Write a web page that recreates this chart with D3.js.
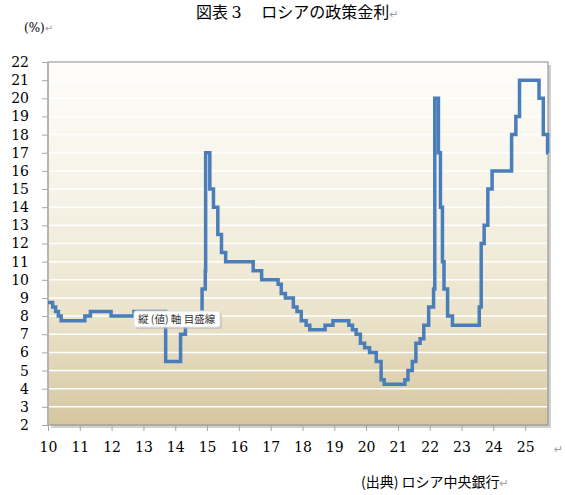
<!DOCTYPE html>
<html>
<head>
<meta charset="utf-8">
<script src="https://cdn.jsdelivr.net/npm/d3@7"></script>
<style>
  body { margin: 0; background: #fff; }
  .axis text { font-family: "DejaVu Serif", serif; font-size: 14px; fill: #000; }
  .axis path { display: none; }
  .axis line { stroke: #a6a6a6; }
  .jp { font-family: "Noto Sans CJK JP", sans-serif; }
  .mark { fill: #a0a0a0; font-family: "DejaVu Sans", sans-serif; }
</style>
</head>
<body>
<div id="chart"></div>
<script>
// Russian policy rate, date of change and new rate (%)
var changeDates = [
  "2010-01-01", "2010-02-24", "2010-03-29", "2010-04-30", "2010-06-01",
  "2011-02-28", "2011-05-03", "2011-12-26", "2012-09-14",
  "2013-09-13", "2014-03-03", "2014-04-28", "2014-07-28", "2014-11-05",
  "2014-12-12", "2014-12-16",
  "2015-02-02", "2015-03-16", "2015-05-05", "2015-06-16", "2015-08-03",
  "2016-06-14", "2016-09-19",
  "2017-03-27", "2017-05-02", "2017-06-19", "2017-09-18", "2017-10-30", "2017-12-18",
  "2018-02-12", "2018-03-26", "2018-09-17", "2018-12-17",
  "2019-06-17", "2019-07-29", "2019-09-09", "2019-10-28", "2019-12-16",
  "2020-02-10", "2020-04-27", "2020-06-22", "2020-07-27",
  "2021-03-22", "2021-04-26", "2021-06-15", "2021-07-26", "2021-09-13",
  "2021-10-25", "2021-12-20",
  "2022-02-14", "2022-02-28", "2022-04-11", "2022-05-04", "2022-05-27",
  "2022-06-14", "2022-07-25", "2022-09-19",
  "2023-07-24", "2023-08-15", "2023-09-18", "2023-10-30", "2023-12-18",
  "2024-07-29", "2024-09-16", "2024-10-28",
  "2025-06-09", "2025-07-28", "2025-09-15"
];
var rates = [
  8.75, 8.5, 8.25, 8.0, 7.75,
  8.0, 8.25, 8.0, 8.25,
  5.5, 7.0, 7.5, 8.0, 9.5,
  10.5, 17.0,
  15.0, 14.0, 12.5, 11.5, 11.0,
  10.5, 10.0,
  9.75, 9.25, 9.0, 8.5, 8.25, 7.75,
  7.5, 7.25, 7.5, 7.75,
  7.5, 7.25, 7.0, 6.5, 6.25,
  6.0, 5.5, 4.5, 4.25,
  4.5, 5.0, 5.5, 6.5, 6.75,
  7.5, 8.5,
  9.5, 20.0, 17.0, 14.0, 11.0,
  9.5, 8.0, 7.5,
  8.5, 12.0, 13.0, 15.0, 16.0,
  18.0, 19.0, 21.0,
  20.0, 18.0, 17.0
];
var xStart = "2010-01-01";
var xEnd = "2025-09-20";
var yearTicks = d3.range(2010, 2026);
var yTicks = d3.range(2, 23);

var svgWidth = 565;
var svgHeight = 495;
var margin = { top: 62, right: 17, bottom: 70, left: 48 };
var width = svgWidth - margin.left - margin.right;
var height = svgHeight - margin.top - margin.bottom;

var parse = d3.timeParse("%Y-%m-%d");

var svg = d3.select("#chart")
  .append("svg")
  .attr("width", svgWidth)
  .attr("height", svgHeight);

var defs = svg.append("defs");
var grad = defs.append("linearGradient")
  .attr("id", "bg")
  .attr("x1", 0).attr("y1", 0).attr("x2", 0).attr("y2", 1);
[[0, "#fefdfa"], [0.4, "#f5f1e4"], [0.7, "#ebe3cb"], [1, "#d5c69f"]].forEach(function(s) {
  grad.append("stop").attr("offset", s[0]).attr("stop-color", s[1]);
});

// title and notes
var title = svg.append("text")
  .attr("class", "jp")
  .attr("x", 196).attr("y", 18)
  .style("font-size", "16px");
title.append("tspan").text("図表 ");
title.append("tspan").style("font-family", "DejaVu Serif, serif").text("3");
title.append("tspan").text("　 ロシアの政策金利");
title.append("tspan").attr("class", "mark").style("font-size", "11px").text("↵");

svg.append("text")
  .attr("x", 24).attr("y", 32)
  .style("font-family", "DejaVu Serif, serif")
  .style("font-size", "12px")
  .text("(%)")
  .append("tspan").attr("class", "mark").style("font-size", "10px").text("↵");

svg.append("text")
  .attr("class", "jp")
  .attr("x", 361).attr("y", 487)
  .style("font-size", "14px")
  .text("(出典) ロシア中央銀行")
  .append("tspan").attr("class", "mark").style("font-size", "11px").text("↵");

svg.append("text")
  .attr("class", "mark")
  .attr("x", 554).attr("y", 453)
  .style("font-size", "11px")
  .text("↵");

var chartGroup = svg.append("g")
  .attr("transform", `translate(${margin.left}, ${margin.top})`);

var xScale = d3.scaleTime()
  .domain([parse(xStart), parse(xEnd)])
  .range([0, width]);

var yScale = d3.scaleLinear()
  .domain([2, 22])
  .range([height, 0]);

// plot area with shadow
chartGroup.append("rect")
  .attr("x", 3).attr("y", 3)
  .attr("width", width).attr("height", height)
  .attr("fill", "#d0d0d0");
chartGroup.append("rect")
  .attr("width", width).attr("height", height)
  .attr("fill", "url(#bg)")
  .attr("stroke", "#8a8a8a")
  .attr("stroke-width", 1);

chartGroup.selectAll(".grid")
  .data(yTicks.slice(1, -1))
  .enter()
  .append("line")
  .attr("class", "grid")
  .attr("x1", 1).attr("x2", width - 1)
  .attr("y1", d => yScale(d)).attr("y2", d => yScale(d))
  .attr("stroke", "#ffffff")
  .attr("stroke-width", 1.5);

chartGroup.append("line")
  .attr("x1", 0).attr("x2", 0)
  .attr("y1", 0).attr("y2", height)
  .attr("stroke", "#b4b4b4")
  .attr("stroke-width", 2);

var leftAxis = d3.axisLeft(yScale)
  .tickValues(yTicks)
  .tickSize(6)
  .tickPadding(13)
  .tickFormat(d3.format("d"));

chartGroup.append("g")
  .attr("class", "axis")
  .call(leftAxis);

var bottomAxis = d3.axisBottom(xScale)
  .tickValues(yearTicks.map(y => new Date(y, 0, 1)))
  .tickSize(6)
  .tickPadding(11)
  .tickFormat(d => String(d.getFullYear() % 100));

chartGroup.append("g")
  .attr("class", "axis")
  .attr("transform", `translate(0, ${height})`)
  .call(bottomAxis);

// step line
var points = changeDates.map((d, i) => ({ date: parse(d), rate: rates[i] }));
points.push({ date: parse(xEnd), rate: rates[rates.length - 1] });

var line = d3.line()
  .x(d => xScale(d.date))
  .y(d => yScale(d.rate))
  .curve(d3.curveStepAfter);

chartGroup.append("path")
  .datum(points)
  .attr("d", line)
  .attr("fill", "none")
  .attr("stroke", "#4a7ebb")
  .attr("stroke-width", 3.5)
  .attr("stroke-linejoin", "miter");

// tooltip left over the chart
var tip = svg.append("g").attr("transform", "translate(134, 311)");
tip.append("rect")
  .attr("x", 2).attr("y", 2).attr("width", 86).attr("height", 16)
  .attr("rx", 2)
  .attr("fill", "#b8b8b8").attr("opacity", 0.6);
tip.append("rect")
  .attr("width", 86).attr("height", 16)
  .attr("rx", 2)
  .attr("fill", "#ffffff").attr("stroke", "#e0e0e0");
tip.append("text")
  .attr("class", "jp")
  .attr("x", 4).attr("y", 12)
  .style("font-size", "10.5px")
  .style("fill", "#333")
  .text("縦 (値) 軸 目盛線");
</script>
</body>
</html>
